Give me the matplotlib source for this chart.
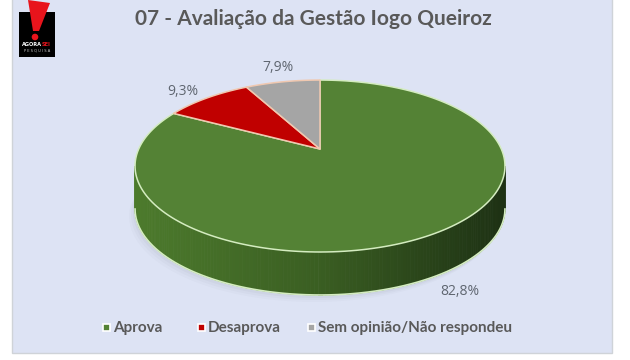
import numpy as np
import matplotlib
matplotlib.use("Agg")
import matplotlib.pyplot as plt
from matplotlib.patches import Polygon, Rectangle, Circle

# chart data
categories = ['Aprova', 'Desaprova', 'Sem opinião/Não respondeu']
values = [82.8, 9.3, 7.9]
value_labels = ['82,8%', '9,3%', '7,9%']
colors = ['#548235', '#c00000', '#a5a5a5']
title = '07 - Avaliação da Gestão Iogo Queiroz'

# layout of the fake 3d pie (pixel space)
cx, cy = 320, 149
A, B, K = 181.3, 82.6, 0.198
depth = 43
label_offsets = [(27, 14), (-24, -6), (-5, -14)]

bg = '#dde3f4'
text_col = '#595959'


def proj(theta, r=1.0):
    t = np.radians(theta)
    c, s = r * np.cos(t), r * np.sin(t)
    w = 1 + K * s
    return cx + A * c / w, cy - B * s / w


fig = plt.figure(figsize=(6.3, 3.6), dpi=100)
fig.patch.set_facecolor('white')
ax = fig.add_axes([0, 0, 1, 1])
ax.set_xlim(0, 630)
ax.set_ylim(360, 0)
ax.axis('off')

# chart area
ax.add_patch(Rectangle((12, -2), 600, 355, facecolor=bg, edgecolor='#cfd3d8', lw=1))

# soft shadow under the pie
th = np.linspace(185, 355, 120)
for i, a in enumerate([0.05, 0.04, 0.03]):
    xs, ys = proj(th)
    pts = list(zip(xs - 2 - i * 2, ys + depth + 3 + i * 2))
    xt, yt = proj(th[::-1])
    pts += list(zip(xt, yt + depth - 5))
    ax.add_patch(Polygon(pts, closed=True, facecolor='#6b7080', alpha=a, lw=0))

# side wall with gradient (only front part is visible)
t_left = 180 + np.degrees(np.arcsin(K))
t_right = 360 - np.degrees(np.arcsin(K))
ts = np.linspace(t_left, t_right, 160)
c_left = np.array([76, 122, 44]) / 255
c_mid = np.array([58, 94, 34]) / 255
c_right = np.array([30, 50, 20]) / 255
for t0, t1 in zip(ts[:-1], ts[1:]):
    x0, y0 = proj(t0)
    x1, y1 = proj(t1)
    f = ((x0 + x1) / 2 - (cx - A)) / (2 * A)
    if f < 0.5:
        col = c_left + (c_mid - c_left) * f / 0.5
    else:
        col = c_mid + (c_right - c_mid) * (f - 0.5) / 0.5
    ax.add_patch(Polygon([(x0, y0), (x1, y1), (x1, y1 + depth), (x0, y0 + depth)],
                         closed=True, facecolor=col, edgecolor=col, lw=0.6))

# outline of side bottom
xs, ys = proj(ts)
ax.plot(xs, ys + depth, color='#d4ecc0', lw=1.2)

# top slices, clockwise from 12 o'clock
start = 90.0
total = sum(values)
for i, v in enumerate(values):
    end = start - 360 * v / total
    th = np.linspace(start, end, 200)
    xs, ys = proj(th)
    pts = [(cx, cy)] + list(zip(xs, ys))
    edge = '#d4ecc0' if i == 0 else '#f0c8b0'
    ax.add_patch(Polygon(pts, closed=True, facecolor=colors[i], edgecolor=edge,
                         lw=1.1, joinstyle='round'))
    mid = (start + end) / 2
    mx, my = proj(mid)
    if np.sin(np.radians(mid)) < 0:
        my += depth
    dx, dy = label_offsets[i]
    ax.text(mx + dx, my + dy, value_labels[i], ha='center', va='center',
            fontsize=10, color='#5f6670', family='Open Sans')
    start = end

# title
ax.text(313, 19, title, ha='center', va='center', fontsize=15,
        fontweight='bold', color=text_col, family='Lato')

# legend
leg_x = [106, 201, 311]
for i, cat in enumerate(categories):
    ax.add_patch(Rectangle((leg_x[i] - 3, 324), 7, 7, facecolor=colors[i],
                           edgecolor='white', lw=1.2))
    ax.text(leg_x[i] + 7, 328, cat, ha='left', va='center', fontsize=11,
            fontweight='bold', color=text_col, family='Lato')

# logo
ax.add_patch(Rectangle((19, 12), 36, 45, facecolor='black', lw=0))
ax.add_patch(Polygon([(28, 0), (50, 3), (39, 31), (33, 31)], closed=True,
                     facecolor='#e8141c', lw=0))
ax.add_patch(Circle((35, 37), 3.3, facecolor='#e8141c', lw=0))
ax.text(32, 45, 'AGORA', color='white', fontsize=3.6, fontweight='bold',
        ha='center', va='center')
ax.text(46, 45, 'SEI', color='#e8141c', fontsize=3.6, fontweight='bold',
        ha='center', va='center')
ax.text(37, 51, 'P E S Q U I S A', color='#cccccc', fontsize=2.6,
        ha='center', va='center')

fig.savefig('out.png', dpi=100, facecolor=fig.get_facecolor())
